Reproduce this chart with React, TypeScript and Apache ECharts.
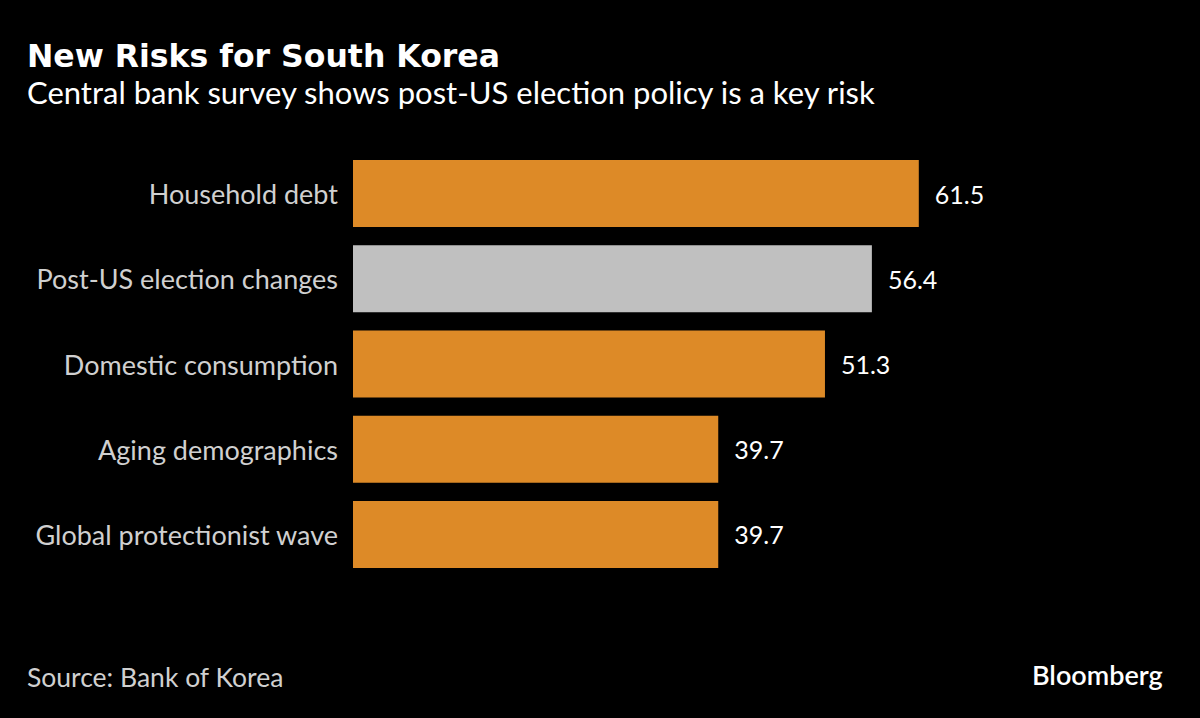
import React, { useEffect, useRef } from "react";
import * as echarts from "echarts";

const categories = [
  "Household debt",
  "Post-US election changes",
  "Domestic consumption",
  "Aging demographics",
  "Global protectionist wave",
];
const values = [61.5, 56.4, 51.3, 39.7, 39.7];
const highlighted = [false, true, false, false, false];

const ORANGE = "#DD8A27";
const GRAY = "#C0C0C0";
const FONT = "Lato, 'Open Sans', sans-serif";
const TITLE_FONT = "'DejaVu Sans', Verdana, sans-serif";

export default function App() {
  const ref = useRef<HTMLDivElement>(null);
  useEffect(() => {
    document.body.style.margin = "0";
    document.body.style.background = "#000";
    const chart = echarts.init(ref.current!, undefined, { renderer: "svg" });
    chart.setOption({
      animation: false,
      backgroundColor: "#000000",
      textStyle: { fontFamily: FONT },
      grid: { left: 353, top: 151, height: 426, width: 736, containLabel: false },
      xAxis: {
        type: "value",
        min: 0,
        max: 80,
        show: false,
      },
      yAxis: {
        type: "category",
        data: categories,
        inverse: true,
        axisLine: { show: false },
        axisTick: { show: false },
        splitLine: { show: false },
        axisLabel: {
          color: "#D0D0D0",
          fontSize: 27,
          margin: 15,
          fontFamily: FONT,
        },
      },
      series: [
        {
          type: "bar",
          barWidth: 67,
          data: values.map((v, i) => ({
            value: v,
            itemStyle: { color: highlighted[i] ? GRAY : ORANGE },
          })),
          label: {
            show: true,
            position: "right",
            distance: 16,
            color: "#FFFFFF",
            fontSize: 25,
            fontFamily: FONT,
            formatter: (p: any) => p.value.toFixed(1),
          },
        },
      ],
      graphic: [
        {
          type: "text",
          left: 27,
          top: 40,
          style: {
            text: "New Risks for South Korea",
            fill: "#FFFFFF",
            font: `bold 31.5px ${TITLE_FONT}`,
          },
        },
        {
          type: "text",
          left: 27,
          top: 76,
          style: {
            text: "Central bank survey shows post-US election policy is a key risk",
            fill: "#FFFFFF",
            font: `31px ${FONT}`,
          },
        },
        {
          type: "text",
          left: 27,
          top: 663,
          style: {
            text: "Source: Bank of Korea",
            fill: "#D0D0D0",
            font: `26.5px ${FONT}`,
          },
        },
        {
          type: "text",
          left: 1032,
          top: 661,
          style: {
            text: "Bloomberg",
            fill: "#FFFFFF",
            font: `600 27px ${FONT}`,
          },
        },
      ],
    });
    return () => chart.dispose();
  }, []);
  return <div ref={ref} style={{ width: 1200, height: 718, position: "absolute", left: 0, top: 0 }} />;
}
